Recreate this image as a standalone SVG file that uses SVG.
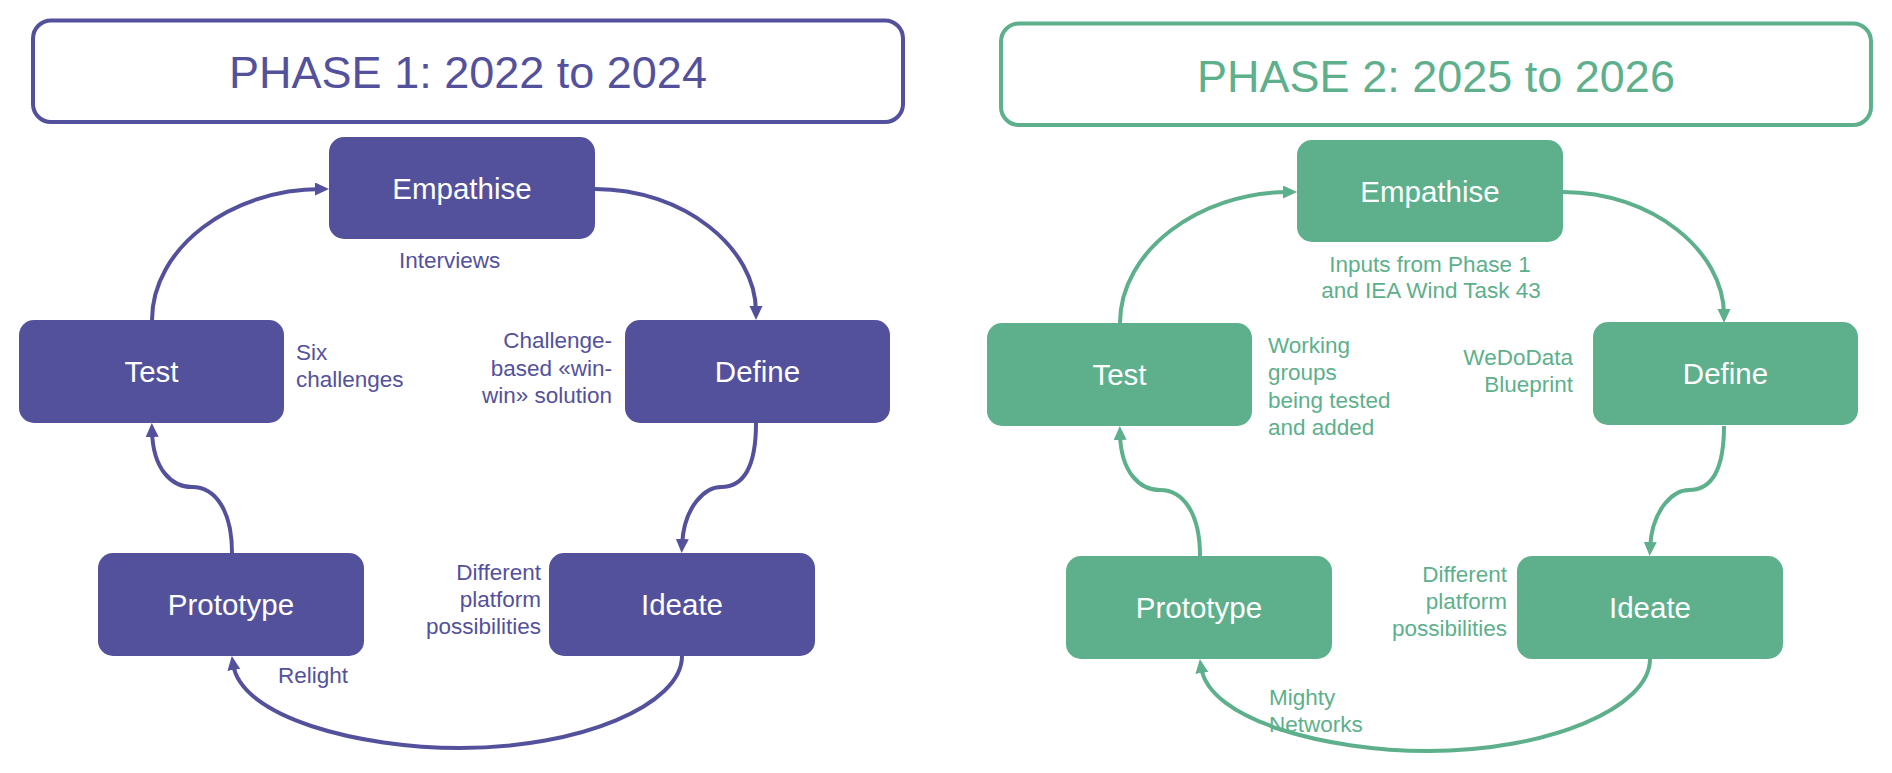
<svg xmlns="http://www.w3.org/2000/svg" width="1892" height="773" viewBox="0 0 1892 773">
  <defs>
    <style>
      .p1 { fill: #54519C; }
      .p2 { fill: #5DB08B; }
      .hdr1 { fill: #FFFFFF; stroke: #54519C; stroke-width: 4; }
      .hdr2 { fill: #FFFFFF; stroke: #5DB08B; stroke-width: 4; }
      .title { font-family: "Liberation Sans", Arial, sans-serif; font-size: 45px; text-anchor: middle; }
      .node { font-family: "Liberation Sans", Arial, sans-serif; font-size: 29.5px; fill: #FFFFFF; text-anchor: middle; }
      .lbl { font-family: "Liberation Sans", Arial, sans-serif; font-size: 22.5px; }
      .end { text-anchor: end; }
      .mid { text-anchor: middle; }
      .c1 { fill: none; stroke: #54519C; stroke-width: 4; marker-end: url(#a1); }
      .c2 { fill: none; stroke: #5DB08B; stroke-width: 4; marker-end: url(#a2); }
    </style>
    <marker id="a1" markerUnits="userSpaceOnUse" markerWidth="16" markerHeight="16" refX="6" refY="6.5" orient="auto">
      <path d="M0,0 L14,6.5 L0,13 z" fill="#54519C"/>
    </marker>
    <marker id="a2" markerUnits="userSpaceOnUse" markerWidth="16" markerHeight="16" refX="6" refY="6.5" orient="auto">
      <path d="M0,0 L14,6.5 L0,13 z" fill="#5DB08B"/>
    </marker>
  </defs>

  <rect width="1892" height="773" fill="#FFFFFF"/>

  <!-- PHASE 1 -->
  <g id="phase1-header">
    <rect class="hdr1" x="33" y="20.5" width="870" height="101.5" rx="18"/>
    <text class="title p1" x="468" y="88">PHASE 1: 2022 to 2024</text>
  </g>

  <g id="connectors-phase1">
    <path class="c1" d="M152,320 C152,248 231,189 321,189"/>
    <path class="c1" d="M595,189 C684,189 756,248 756,312"/>
    <path class="c1" d="M756,423 C756,465 745,487 721,487 C706,487 684,505 682,545"/>
    <path class="c1" d="M232,553 C232,510 215,487 192,487 C172,487 153,470 152,431"/>
    <path class="c1" d="M682,656 C682,705 580,748 460,748 C360,748 241,718 233,664"/>
  </g>

  <g id="p1-empathise">
    <rect class="p1" x="329" y="137" width="266" height="102" rx="15"/>
    <text class="node" x="462" y="198.5">Empathise</text>
  </g>
  <g id="p1-define">
    <rect class="p1" x="625" y="320" width="265" height="103" rx="15"/>
    <text class="node" x="757.5" y="382">Define</text>
  </g>
  <g id="p1-ideate">
    <rect class="p1" x="549" y="553" width="266" height="103" rx="15"/>
    <text class="node" x="682" y="615">Ideate</text>
  </g>
  <g id="p1-prototype">
    <rect class="p1" x="98" y="553" width="266" height="103" rx="15"/>
    <text class="node" x="231" y="615">Prototype</text>
  </g>
  <g id="p1-test">
    <rect class="p1" x="19" y="320" width="265" height="103" rx="15"/>
    <text class="node" x="151.5" y="382">Test</text>
  </g>

  <g id="labels-phase1" class="p1">
    <text class="lbl" x="399" y="268">Interviews</text>
    <text class="lbl" x="296" y="360">Six</text>
    <text class="lbl" x="296" y="387">challenges</text>
    <text class="lbl end" x="612" y="348">Challenge-</text>
    <text class="lbl end" x="612" y="375.5">based «win-</text>
    <text class="lbl end" x="612" y="403">win» solution</text>
    <text class="lbl end" x="541" y="580">Different</text>
    <text class="lbl end" x="541" y="607">platform</text>
    <text class="lbl end" x="541" y="634">possibilities</text>
    <text class="lbl" x="278" y="683">Relight</text>
  </g>

  <!-- PHASE 2 -->
  <g id="phase2-header">
    <rect class="hdr2" x="1001" y="23.5" width="870" height="101.5" rx="18"/>
    <text class="title p2" x="1436" y="91.5">PHASE 2: 2025 to 2026</text>
  </g>

  <g id="connectors-phase2">
    <path class="c2" d="M1120,323 C1120,251 1199,192 1289,192"/>
    <path class="c2" d="M1563,192 C1652,192 1724,251 1724,315"/>
    <path class="c2" d="M1724,426 C1724,468 1713,490 1689,490 C1674,490 1652,508 1650,548"/>
    <path class="c2" d="M1200,556 C1200,513 1183,490 1160,490 C1140,490 1121,473 1120,434"/>
    <path class="c2" d="M1650,659 C1650,708 1548,751 1428,751 C1328,751 1209,721 1201,667"/>
  </g>

  <g id="p2-empathise">
    <rect class="p2" x="1297" y="140" width="266" height="102" rx="15"/>
    <text class="node" x="1430" y="201.5">Empathise</text>
  </g>
  <g id="p2-define">
    <rect class="p2" x="1593" y="322" width="265" height="103" rx="15"/>
    <text class="node" x="1725.5" y="384">Define</text>
  </g>
  <g id="p2-ideate">
    <rect class="p2" x="1517" y="556" width="266" height="103" rx="15"/>
    <text class="node" x="1650" y="618">Ideate</text>
  </g>
  <g id="p2-prototype">
    <rect class="p2" x="1066" y="556" width="266" height="103" rx="15"/>
    <text class="node" x="1199" y="618">Prototype</text>
  </g>
  <g id="p2-test">
    <rect class="p2" x="987" y="323" width="265" height="103" rx="15"/>
    <text class="node" x="1119.5" y="385">Test</text>
  </g>

  <g id="labels-phase2" class="p2">
    <text class="lbl mid" x="1430" y="272">Inputs from Phase 1</text>
    <text class="lbl mid" x="1431" y="298">and IEA Wind Task 43</text>
    <text class="lbl" x="1268" y="353">Working</text>
    <text class="lbl" x="1268" y="380">groups</text>
    <text class="lbl" x="1268" y="408">being tested</text>
    <text class="lbl" x="1268" y="435">and added</text>
    <text class="lbl end" x="1573" y="365">WeDoData</text>
    <text class="lbl end" x="1573" y="392">Blueprint</text>
    <text class="lbl end" x="1507" y="582">Different</text>
    <text class="lbl end" x="1507" y="609">platform</text>
    <text class="lbl end" x="1507" y="636">possibilities</text>
    <text class="lbl" x="1269" y="705">Mighty</text>
    <text class="lbl" x="1269" y="732">Networks</text>
  </g>
</svg>
